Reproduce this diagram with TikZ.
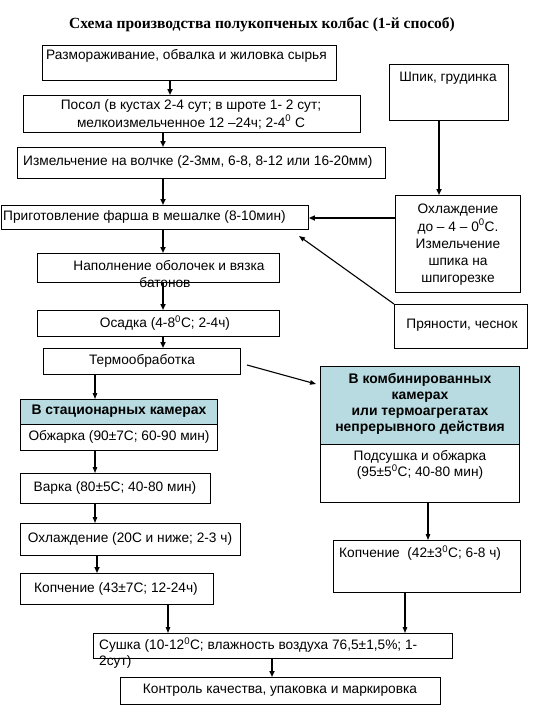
\documentclass[tikz,border=0pt]{standalone}
\usepackage{fontspec}
\setmainfont{Liberation Sans}
\newfontfamily\titlefont{Liberation Serif}
\usetikzlibrary{arrows.meta}
\definecolor{hdr}{RGB}{183,219,224}
\tikzset{
 box/.style={draw, line width=0.9pt, inner sep=0pt, anchor=north west},
 txt/.style={font=\fontsize{13.7}{16}\selectfont, inner sep=0pt, align=center},
 hd/.style={font=\bfseries\fontsize{13.9}{16.2}\selectfont, inner sep=0pt, align=center},
 tarr/.style={-{Triangle[length=6pt,width=5pt]}, line width=1.8pt},
 arr/.style={-{Triangle[length=6pt,width=4.5pt]}, line width=1.1pt},
}
\begin{document}
\begin{tikzpicture}[x=1pt,y=-1pt]
\useasboundingbox (0,0) rectangle (540,720);
% title
\node[font=\titlefont\bfseries\fontsize{15.5}{18}\selectfont, inner sep=0pt] (title) at (262,25) {Схема производства полукопченых колбас (1-й способ)};
% boxes
\node[box, minimum width=294pt, minimum height=35pt] (b1) at (42,45) {};
\node[box, minimum width=119pt, minimum height=56pt] (spik) at (389,64) {};
\node[box, minimum width=337pt, minimum height=37pt] (b2) at (23,95) {};
\node[box, minimum width=368pt, minimum height=31pt] (b3) at (17,147) {};
\node[box, minimum width=307pt, minimum height=24pt] (b4) at (1,205) {};
\node[box, minimum width=125pt, minimum height=97pt] (cool) at (395,195) {};
\node[box, minimum width=242pt, minimum height=29pt] (b5) at (37,253) {};
\node[box, minimum width=242pt, minimum height=26pt] (b6) at (37,310) {};
\node[box, minimum width=133pt, minimum height=44pt] (spices) at (394,304) {};
\node[box, minimum width=197pt, minimum height=26pt] (b7) at (43,348) {};
\node[box, fill=hdr, minimum width=197pt, minimum height=25pt] (sh) at (20,399) {};
\node[box, minimum width=197pt, minimum height=26pt] (so) at (20,424) {};
\node[box, minimum width=190pt, minimum height=30pt] (var) at (20,473) {};
\node[box, minimum width=220pt, minimum height=32pt] (och) at (20,523) {};
\node[box, minimum width=193pt, minimum height=31pt] (kop1) at (20,573) {};
\node[box, fill=hdr, minimum width=199pt, minimum height=78pt] (ch) at (320,366) {};
\node[box, minimum width=199pt, minimum height=58pt] (cb) at (320,444) {};
\node[box, minimum width=187pt, minimum height=52pt] (kop2) at (333,540) {};
\node[box, minimum width=359pt, minimum height=25pt] (dry) at (93,633) {};
\node[box, minimum width=320pt, minimum height=27pt] (qc) at (120,677) {};
% texts
\node[txt, anchor=west] (t1) at (46,56) {Размораживание, обвалка и жиловка сырья};
\node[txt] (tspik) at (448,78) {Шпик, грудинка};
\node[txt] (t2a) at (191,106) {Посол (в кустах 2-4 сут; в шроте 1- 2 сут;};
\node[txt] (t2b) at (191,122) {мелкоизмельченное 12 –24ч; 2-4\textsuperscript{0} С};
\node[txt, anchor=west] (t3) at (23,162) {Измельчение на волчке (2-3мм, 6-8, 8-12 или 16-20мм)};
\node[txt, anchor=west] (t4) at (3,217) {Приготовление фарша в мешалке (8-10мин)};
\node[txt, font=\fontsize{13.7}{17.2}\selectfont] (tcool) at (458,245) {Охлаждение\\до – 4 – 0\textsuperscript{0}С.\\Измельчение\\шпика на\\шпигорезке};
\node[txt] (t5a) at (169,266) {Наполнение оболочек и вязка};
\node[txt] (t5b) at (165,283) {батонов};
\node[txt] (t6) at (165,323) {Осадка (4-8\textsuperscript{0}С; 2-4ч)};
\node[txt] (tsp) at (462,325) {Пряности, чеснок};
\node[txt] (t7) at (142,361) {Термообработка};
\node[hd] (tsh) at (119,411) {В стационарных камерах};
\node[txt] (tso) at (119,437) {Обжарка (90±7С; 60-90 мин)};
\node[txt] (tvar) at (115,488) {Варка (80±5С; 40-80 мин)};
\node[txt] (toch) at (130,539) {Охлаждение (20С и ниже; 2-3 ч)};
\node[txt] (tkop1) at (116,589) {Копчение (43±7С; 12-24ч)};
\node[hd] (tch) at (420,404) {В комбинированных\\камерах\\ или термоагрегатах\\непрерывного действия};
\node[txt] (tcb) at (420,465) {Подсушка и обжарка\\(95±5\textsuperscript{0}С; 40-80 мин)};
\node[txt, anchor=west] (tkop2) at (339,553) {Копчение\ \ (42±3\textsuperscript{0}С; 6-8 ч)};
\node[txt, anchor=west] (td1) at (99,645) {Сушка (10-12\textsuperscript{0}С; влажность воздуха 76,5±1,5\%; 1-};
\node[txt, anchor=west] (td2) at (99,662) {2сут)};
\node[txt] (tqc) at (280,690) {Контроль качества, упаковка и маркировка};
% connectors
\coordinate (spin) at (299,236);
\coordinate (chin) at (316,384);
\coordinate (b7out) at (247,365);
\draw[tarr] (b1.south -| 170,0) -- (b2.north -| 170,0);
\draw[tarr] (b2.south -| 163,0) -- (b3.north -| 163,0);
\draw[tarr] (spik.south -| 439,0) -- (cool.north -| 439,0);
\draw[tarr] (b3.south -| 163,0) -- (b4.north -| 163,0);
\draw[tarr] (cool.west |- 0,218) -- (b4.east |- 0,218);
\draw[arr] (spices.north west) -- (spin);
\draw[tarr] (b4.south -| 163,0) -- (b5.north -| 163,0);
\draw[tarr] (b5.south -| 163,0) -- (b6.north -| 163,0);
\draw[tarr] (b6.south -| 163,0) -- (b7.north -| 163,0);
\draw[arr] (b7out) -- (chin);
\draw[arr] (b7.south -| 95,0) -- (sh.north -| 95,0);
\draw[arr] (so.south -| 95,0) -- (var.north -| 95,0);
\draw[arr] (var.south -| 95,0) -- (och.north -| 95,0);
\draw[tarr] (och.south -| 97,0) -- (kop1.north -| 97,0);
\draw[arr] (cb.south -| 428,0) -- (kop2.north -| 428,0);
\draw[arr] (kop1.south -| 168,0) -- (dry.north -| 168,0);
\draw[arr] (kop2.south -| 405,0) -- (dry.north -| 405,0);
\draw[tarr] (dry.south -| 272,0) -- (qc.north -| 272,0);
\end{tikzpicture}
\end{document}
